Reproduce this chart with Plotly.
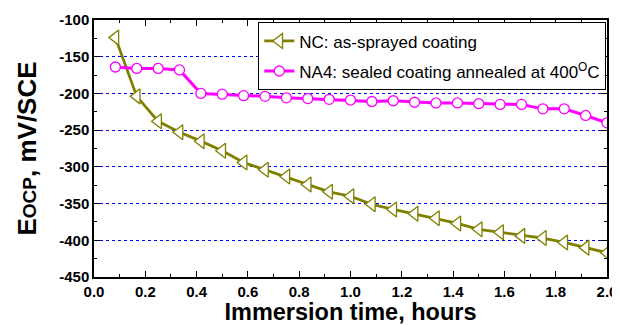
import plotly.graph_objects as go

hours = [i / 12 for i in range(1, 25)]
nc_values = [-124, -204, -238, -253, -265, -278, -294, -304, -313, -324, -334, -340,
             -351, -358, -364, -370, -377, -385, -389, -394, -397, -403, -410, -417]
na4_values = [-164, -166, -166, -168, -200, -201, -203, -204, -206, -207, -208, -209,
              -211, -210, -212, -213, -213, -214, -215, -215, -221, -221, -230, -240]
series_names = ["NC: as-sprayed coating",
                "NA4: sealed coating annealed at 400<sup>O</sup>C"]
x_tick_vals = [0.0, 0.2, 0.4, 0.6, 0.8, 1.0, 1.2, 1.4, 1.6, 1.8, 2.0]
x_tick_text = ["0.0", "0.2", "0.4", "0.6", "0.8", "1.0", "1.2", "1.4", "1.6", "1.8", "2.0"]
y_tick_vals = [-100, -150, -200, -250, -300, -350, -400, -450]
y_tick_text = ["-100", "-150", "-200", "-250", "-300", "-350", "-400", "-450"]

FONT = "Arial, Liberation Sans, sans-serif"

fig = go.Figure()
fig.add_trace(go.Scatter(
    x=hours, y=nc_values, name=series_names[0], mode="lines+markers",
    legendgroup="nc",
    line=dict(color="#808000", width=2.8),
    marker=dict(symbol="triangle-left", size=13, color="white",
                line=dict(color="#808000", width=1.3)),
))
fig.add_trace(go.Scatter(
    x=hours, y=na4_values, name=series_names[1], mode="lines+markers",
    legendgroup="na4",
    line=dict(color="#FF00FF", width=3),
    marker=dict(symbol="circle", size=10, color="white",
                line=dict(color="#FF00FF", width=1.3)),
))

axis_common = dict(
    showline=True, linecolor="black", linewidth=1.5, mirror="ticks",
    ticks="inside", ticklen=6, tickwidth=1.3, tickcolor="black",
    zeroline=False, automargin=False,
    tickfont=dict(family=FONT, size=15, color="black"),
)

fig.update_xaxes(
    range=[0, 2.0], tickmode="array", tickvals=x_tick_vals,
    ticktext=["<b>%s</b>" % t for t in x_tick_text],
    showgrid=False,
    minor=dict(dtick=0.1, ticks="inside", ticklen=3, tickcolor="black", tickwidth=1.2),
    title=dict(text="<b>Immersion time, hours</b>", standoff=5,
               font=dict(family=FONT, size=23.5, color="black")),
    **axis_common,
)
fig.update_yaxes(
    range=[-450, -100], tickmode="array", tickvals=y_tick_vals,
    ticktext=["<b>%s</b>" % t for t in y_tick_text],
    showgrid=True, gridcolor="#0000FF", griddash="dot", gridwidth=1,
    minor=dict(dtick=25, ticks="inside", ticklen=3, tickcolor="black", tickwidth=1.2,
               showgrid=False),
    title=dict(text="<b>E<span style='font-size:19px'>OCP</span>, mV/SCE</b>", standoff=15,
               font=dict(family=FONT, size=26, color="black")),
    **axis_common,
)

# The page body has an 8px default margin, so the figure is sized to fit
# within the 620x325 window from that offset.
fig.update_layout(
    width=612, height=317,
    margin=dict(l=86, r=13, t=12, b=48),
    plot_bgcolor="white", paper_bgcolor="white",
    showlegend=True,
    legend=dict(
        x=0.998, y=0.992, xanchor="right", yanchor="top",
        bordercolor="black", borderwidth=1.3, bgcolor="white",
        font=dict(family=FONT, size=17, color="black"),
        tracegroupgap=5, itemwidth=30,
    ),
)

fig.write_html("out.html")
